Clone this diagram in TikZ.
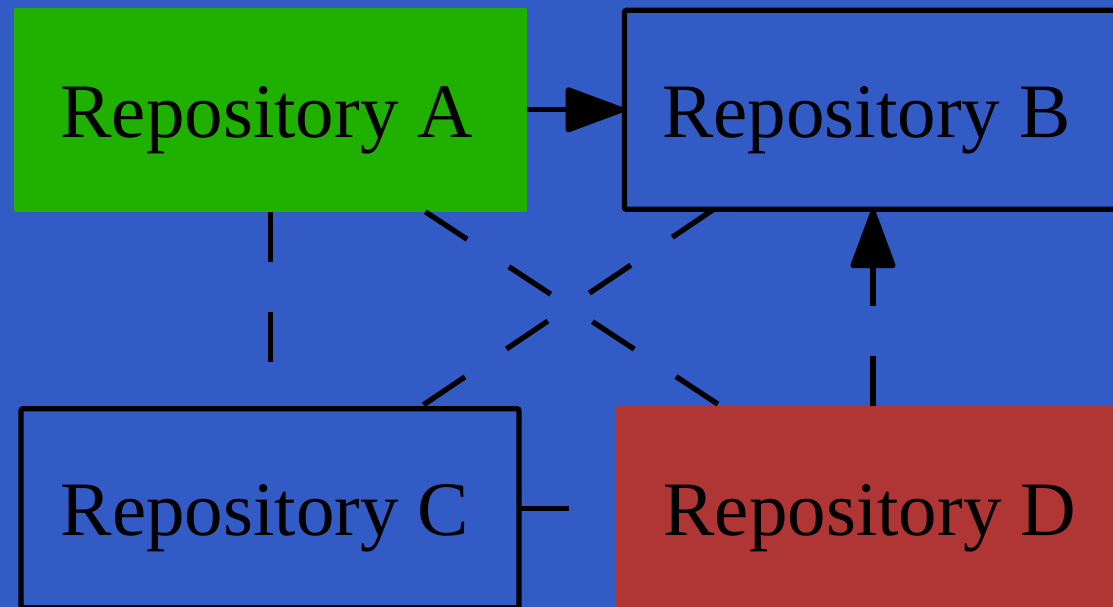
\documentclass[tikz,border=0pt]{standalone}
\usepackage{fontspec}
\setmainfont{Liberation Serif}
\usetikzlibrary{arrows.meta}
\definecolor{bgblue}{HTML}{325BC6}
\definecolor{boxgreen}{HTML}{20B000}
\definecolor{boxred}{HTML}{B03535}
\begin{document}
\begin{tikzpicture}[x=1pt,y=-1pt,
  repo/.style={rectangle, inner sep=0pt, outer sep=0pt, line width=5.3pt, rounded corners=2pt},
  lbl/.style={anchor=base, font=\fontsize{77}{90}\selectfont, inner sep=0pt, text=black},
  link/.style={line width=5.3pt, draw=black},
  dashlink/.style={link, dash pattern=on 50pt off 50pt},
  head/.style={-{Triangle[length=64pt,width=46pt,round]}}]
\useasboundingbox (0,0) rectangle (1113,607);
\clip (0,0) rectangle (1113,607);
\fill[bgblue] (0,0) rectangle (1113,607);
% boxes
\node[repo, fill=boxgreen, minimum width=513pt, minimum height=204pt] (A) at (270.5,109.8) {};
\node[repo, draw=black, minimum width=497pt, minimum height=199pt] (B) at (873,109.8) {};
\node[repo, draw=black, minimum width=498pt, minimum height=199pt] (C) at (270,508.3) {};
\node[repo, fill=boxred, minimum width=514pt, minimum height=202pt] (D) at (873,507) {};
% labels
\node[lbl] (tA) at (267,137) {Repository A};
\node[lbl] (tB) at (866.5,137) {Repository B};
\node[lbl] (tC) at (265,535.7) {Repository C};
\node[lbl] (tD) at (870,535.7) {Repository D};
% connectors
\draw[link, head] (A.east) -- (A.east -| B.west);
\draw[dashlink, head] (D.north) -- (B.south);
\draw[dashlink] (A.south) -- (A.south |- C.north);
\draw[dashlink] (A) -- (D);
\draw[dashlink] (B.212.6) -- (C);
\draw[dashlink] (C.east) -- (C.east -| D.west);
\end{tikzpicture}
\end{document}
